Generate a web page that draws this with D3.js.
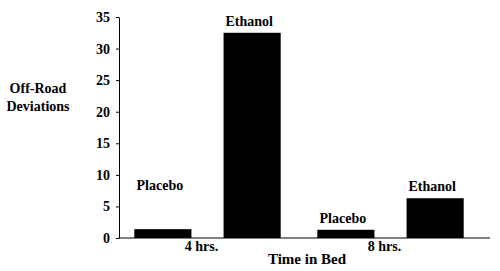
<!DOCTYPE html>
<html>
<head>
<meta charset="utf-8">
<script src="https://cdn.jsdelivr.net/npm/d3@7"></script>
<style>
  body { margin: 0; background: #fff; }
</style>
</head>
<body>
<div id="chart"></div>
<script>
const times = ["4 hrs.", "8 hrs."];
const conditions = ["Placebo", "Ethanol"];
const deviations = [
  [1.4, 32.5],
  [1.3, 6.3],
];
const yTicks = [0, 5, 10, 15, 20, 25, 30, 35];

const data = times.flatMap((t, i) =>
  conditions.map((c, j) => ({ time: t, cond: c, value: deviations[i][j] }))
);

const width = 500;
const height = 271;
const margin = { top: 17, right: 10, bottom: 33, left: 119 };
const font = "'Liberation Serif', 'Times New Roman', serif";

const svg = d3
  .select("#chart")
  .append("svg")
  .attr("width", width)
  .attr("height", height);

const y = d3
  .scaleLinear()
  .domain([0, 35])
  .range([height - margin.bottom, margin.top]);

const x0 = d3
  .scaleBand()
  .domain(times)
  .range([116, 482])
  .paddingInner(0.2)
  .paddingOuter(0.1);

const x1 = d3
  .scaleBand()
  .domain(conditions)
  .range([0, x0.bandwidth()])
  .paddingInner(0.36)
  .paddingOuter(0);

// y axis
const yAxis = svg
  .append("g")
  .attr("transform", `translate(${margin.left},0)`)
  .call(d3.axisLeft(y).tickValues(yTicks).tickSize(3).tickSizeOuter(0).tickPadding(6));
yAxis.select(".domain").attr("stroke", "#000");
yAxis.selectAll(".tick line").attr("stroke", "#000");
yAxis.selectAll(".tick text").attr("font-size", 14);

// x axis baseline
svg
  .append("line")
  .attr("x1", margin.left)
  .attr("x2", width - margin.right)
  .attr("y1", y(0))
  .attr("y2", y(0))
  .attr("stroke", "#000");

// bars
svg
  .append("g")
  .selectAll("rect")
  .data(data)
  .join("rect")
  .attr("x", (d) => x0(d.time) + x1(d.cond))
  .attr("width", x1.bandwidth())
  .attr("y", (d) => y(d.value))
  .attr("height", (d) => y(0) - y(d.value))
  .attr("fill", "#000");

// bar labels; the first placebo label sits level with the 8 hrs ethanol label
const labelY = (d) =>
  d.time === times[0] && d.cond === conditions[0]
    ? y(deviations[1][1]) - 8
    : y(d.value) - 7;
svg
  .append("g")
  .selectAll("text")
  .data(data)
  .join("text")
  .attr("x", (d) => x0(d.time) + x1(d.cond) + x1.bandwidth() / 2 - 3)
  .attr("y", labelY)
  .attr("text-anchor", "middle")
  .attr("font-size", 14)
  .text((d) => d.cond);

// time labels
svg
  .append("g")
  .selectAll("text")
  .data(times)
  .join("text")
  .attr("x", (d) => x0(d) + x0.bandwidth() / 2 - 6)
  .attr("y", y(0) + 13)
  .attr("text-anchor", "middle")
  .attr("font-size", 14)
  .text((d) => d);

svg
  .append("text")
  .attr("x", 307)
  .attr("y", 264)
  .attr("text-anchor", "middle")
  .attr("font-size", 15)
  .text("Time in Bed");

svg
  .append("text")
  .attr("x", 38)
  .attr("y", 93)
  .attr("text-anchor", "middle")
  .attr("font-size", 14)
  .selectAll("tspan")
  .data(["Off-Road", "Deviations"])
  .join("tspan")
  .attr("x", 38)
  .attr("dy", (d, i) => (i ? 18 : 0))
  .text((d) => d);

svg.selectAll("text")
  .style("font-family", font)
  .style("font-weight", "bold")
  .attr("fill", "#000");
</script>
</body>
</html>
